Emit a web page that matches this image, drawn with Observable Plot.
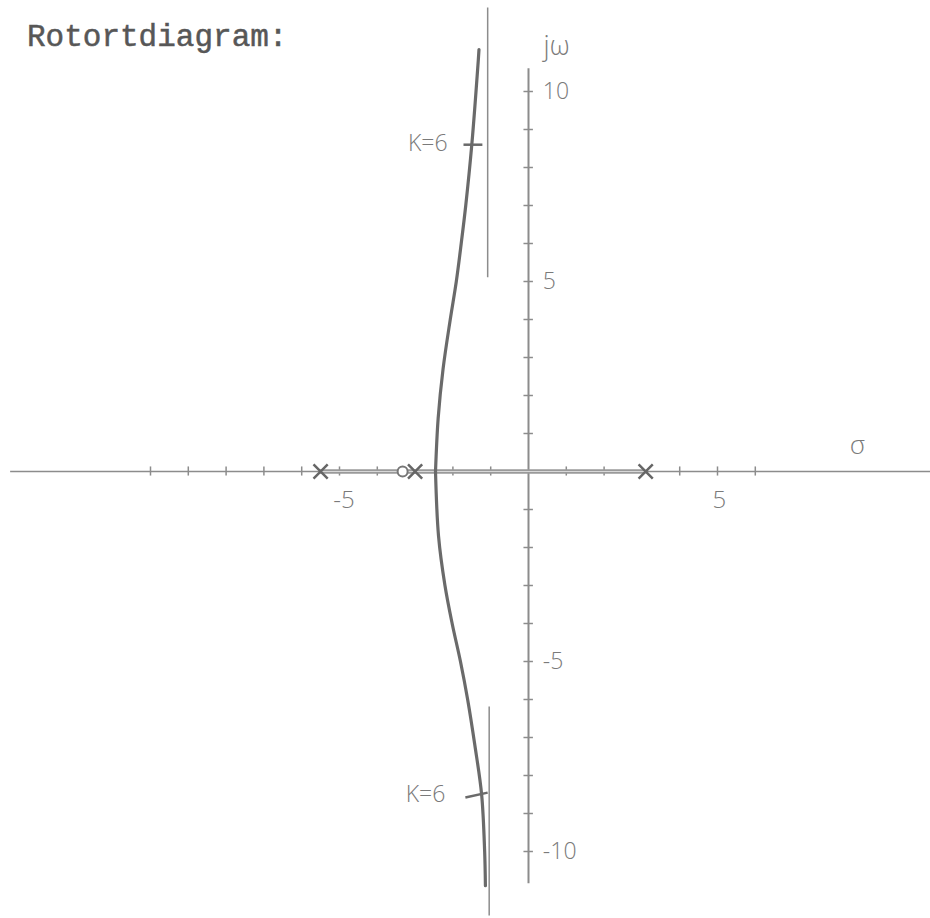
<!DOCTYPE html>
<html>
<head>
<meta charset="utf-8">
<script src="https://cdn.jsdelivr.net/npm/d3@7"></script>
<script src="https://cdn.jsdelivr.net/npm/@observablehq/plot@0.6"></script>
<style>
  body { margin: 0; background: #fff; }
  #wrap { position: relative; width: 930px; height: 918px; }
  #title {
    position: absolute; left: 27px; top: 20px;
    font-family: "Liberation Mono", "DejaVu Sans Mono", monospace;
    font-size: 31px; color: #575757; -webkit-text-stroke: 0.5px #575757;
  }
  svg text.hand { letter-spacing: 2px; }
</style>
</head>
<body>
<div id="wrap"><div id="title">Rotortdiagram:</div></div>
<script>
// Open-loop poles and zero on the real axis (σ)
const poles = [-5.5, -3, 3.1];
const zeros = [-3.33];

// Real-axis part of the locus
const realLocus = [{ from: -5.5, to: 3.1 }];

// Complex branches: σ for given jω
const upperW = [0, 1.4, 2.7, 4.0, 5.0, 6.0, 7.0, 8.6, 10.8, 11.1];
const upperS = [-2.46, -2.39, -2.26, -2.07, -1.91, -1.78, -1.66, -1.50, -1.33, -1.31];
const lowerW = [0, -1.7, -3.0, -4.0, -5.0, -6.0, -7.2, -8.5, -10.0, -10.9];
const lowerS = [-2.46, -2.38, -2.21, -2.02, -1.80, -1.61, -1.42, -1.24, -1.16, -1.14];

// Asymptotes (centroid σ = -1.08)
const asymptotes = [
  { s: -1.08, w1: 5.1, w2: 12.2 },
  { s: -1.04, w1: -6.2, w2: -11.7 }
];

// Gain markers K = 6 on each branch
const kMarks = [
  { s1: -1.72, w1: 8.6, s2: -1.22, w2: 8.6 },
  { s1: -1.67, w1: -8.58, s2: -1.08, w2: -8.45 }
];
const kLabels = [
  { s: -2.14, w: 8.62, text: "K=6" },
  { s: -2.2, w: -8.5, text: "K=6" }
];

// Axis ticks and labels
const sigmaTicks = [-10, -9, -8, -7, -6, -5, -4, -2, -1, 1, 2, 4, 5, 6];
const omegaTicks = [-10, -9, -8, -7, -6, -5, -4, -3, -2, -1, 1, 2, 3, 4, 5, 6, 7, 8, 9, 10];
const omegaLabels = [
  { w: 10, text: "10" }, { w: 5, text: "5" }, { w: -5, text: "-5" }, { w: -10, text: "-10" }
];
const sigmaLabels = [
  { s: -4.88, text: "-5" }, { s: 5.05, text: "5" }
];

const upper = upperW.map((w, i) => ({ w, s: upperS[i] }));
const lower = lowerW.map((w, i) => ({ w, s: lowerS[i] }));

const axisGray = "#8c8c8c";
const pencil = "#6a6a6a";
const labelGray = "#7a7a7a";
const hand = "'Open Sans', 'DejaVu Sans', sans-serif";

const chart = Plot.plot({
  width: 930,
  height: 918,
  margin: 0,
  x: { domain: [-528 / 37.8, 402 / 37.8], axis: null },
  y: { domain: [-447 / 38, 471 / 38], axis: null },
  style: { background: "transparent" },
  marks: [
    // σ axis
    Plot.ruleY([0], { x1: -13.7, x2: 10.7, stroke: axisGray, strokeWidth: 1.6 }),
    // jω axis
    Plot.ruleX([0], { y1: -10.85, y2: 10.6, stroke: axisGray, strokeWidth: 2 }),
    // ticks
    Plot.ruleX(sigmaTicks, { x: d => d, y1: -0.12, y2: 0.12, stroke: axisGray, strokeWidth: 1.5 }),
    Plot.ruleY(omegaTicks, { y: d => d, x1: -0.12, x2: 0.13, stroke: axisGray, strokeWidth: 1.5 }),
    // real-axis locus
    Plot.ruleY(realLocus, { y: 0, x1: "from", x2: "to", stroke: "#9a9a9a", strokeWidth: 4.5 }),
    Plot.ruleY(realLocus, { y: 0, x1: "from", x2: "to", stroke: "#d8d8d8", strokeWidth: 1 }),
    // asymptotes
    Plot.ruleX(asymptotes, { x: "s", y1: "w1", y2: "w2", stroke: axisGray, strokeWidth: 1.5 }),
    // complex branches
    Plot.line(upper, { x: "s", y: "w", curve: "catmull-rom", stroke: pencil, strokeWidth: 3.2 }),
    Plot.line(lower, { x: "s", y: "w", curve: "catmull-rom", stroke: pencil, strokeWidth: 3.2 }),
    // K = 6 markers
    Plot.link(kMarks, { x1: "s1", y1: "w1", x2: "s2", y2: "w2", stroke: pencil, strokeWidth: 2.5 }),
    Plot.text(kLabels, { x: "s", y: "w", text: "text", textAnchor: "end", fontSize: 23, fill: labelGray, fontFamily: hand, fontWeight: 300, className: "hand" }),
    // poles and zero
    Plot.dot(zeros, { x: d => d, y: 0, r: 5, fill: "white", stroke: "#777", strokeWidth: 2 }),
    Plot.dot(poles, { x: d => d, y: 0, symbol: "times", r: 6.5, stroke: "#666", strokeWidth: 2.5 }),
    // axis labels
    Plot.text(omegaLabels, { x: 0.38, y: "w", text: "text", textAnchor: "start", fontSize: 23, fill: labelGray, fontFamily: hand, fontWeight: 300, className: "hand" }),
    Plot.text(sigmaLabels, { x: "s", y: -0.75, text: "text", fontSize: 24, fill: labelGray, fontFamily: hand, fontWeight: 300, className: "hand" }),
    Plot.text(["σ"], { x: 8.7, y: 0.68, text: d => d, fontSize: 26, fill: labelGray, fontFamily: hand, fontWeight: 300 }),
    Plot.text(["jω"], { x: 0.4, y: 11.2, text: d => d, fontSize: 27, fill: labelGray, fontFamily: hand, fontWeight: 300, textAnchor: "start" })
  ]
});

chart.style.position = "absolute";
chart.style.left = "0";
chart.style.top = "0";
document.getElementById("wrap").prepend(chart);
</script>
</body>
</html>
